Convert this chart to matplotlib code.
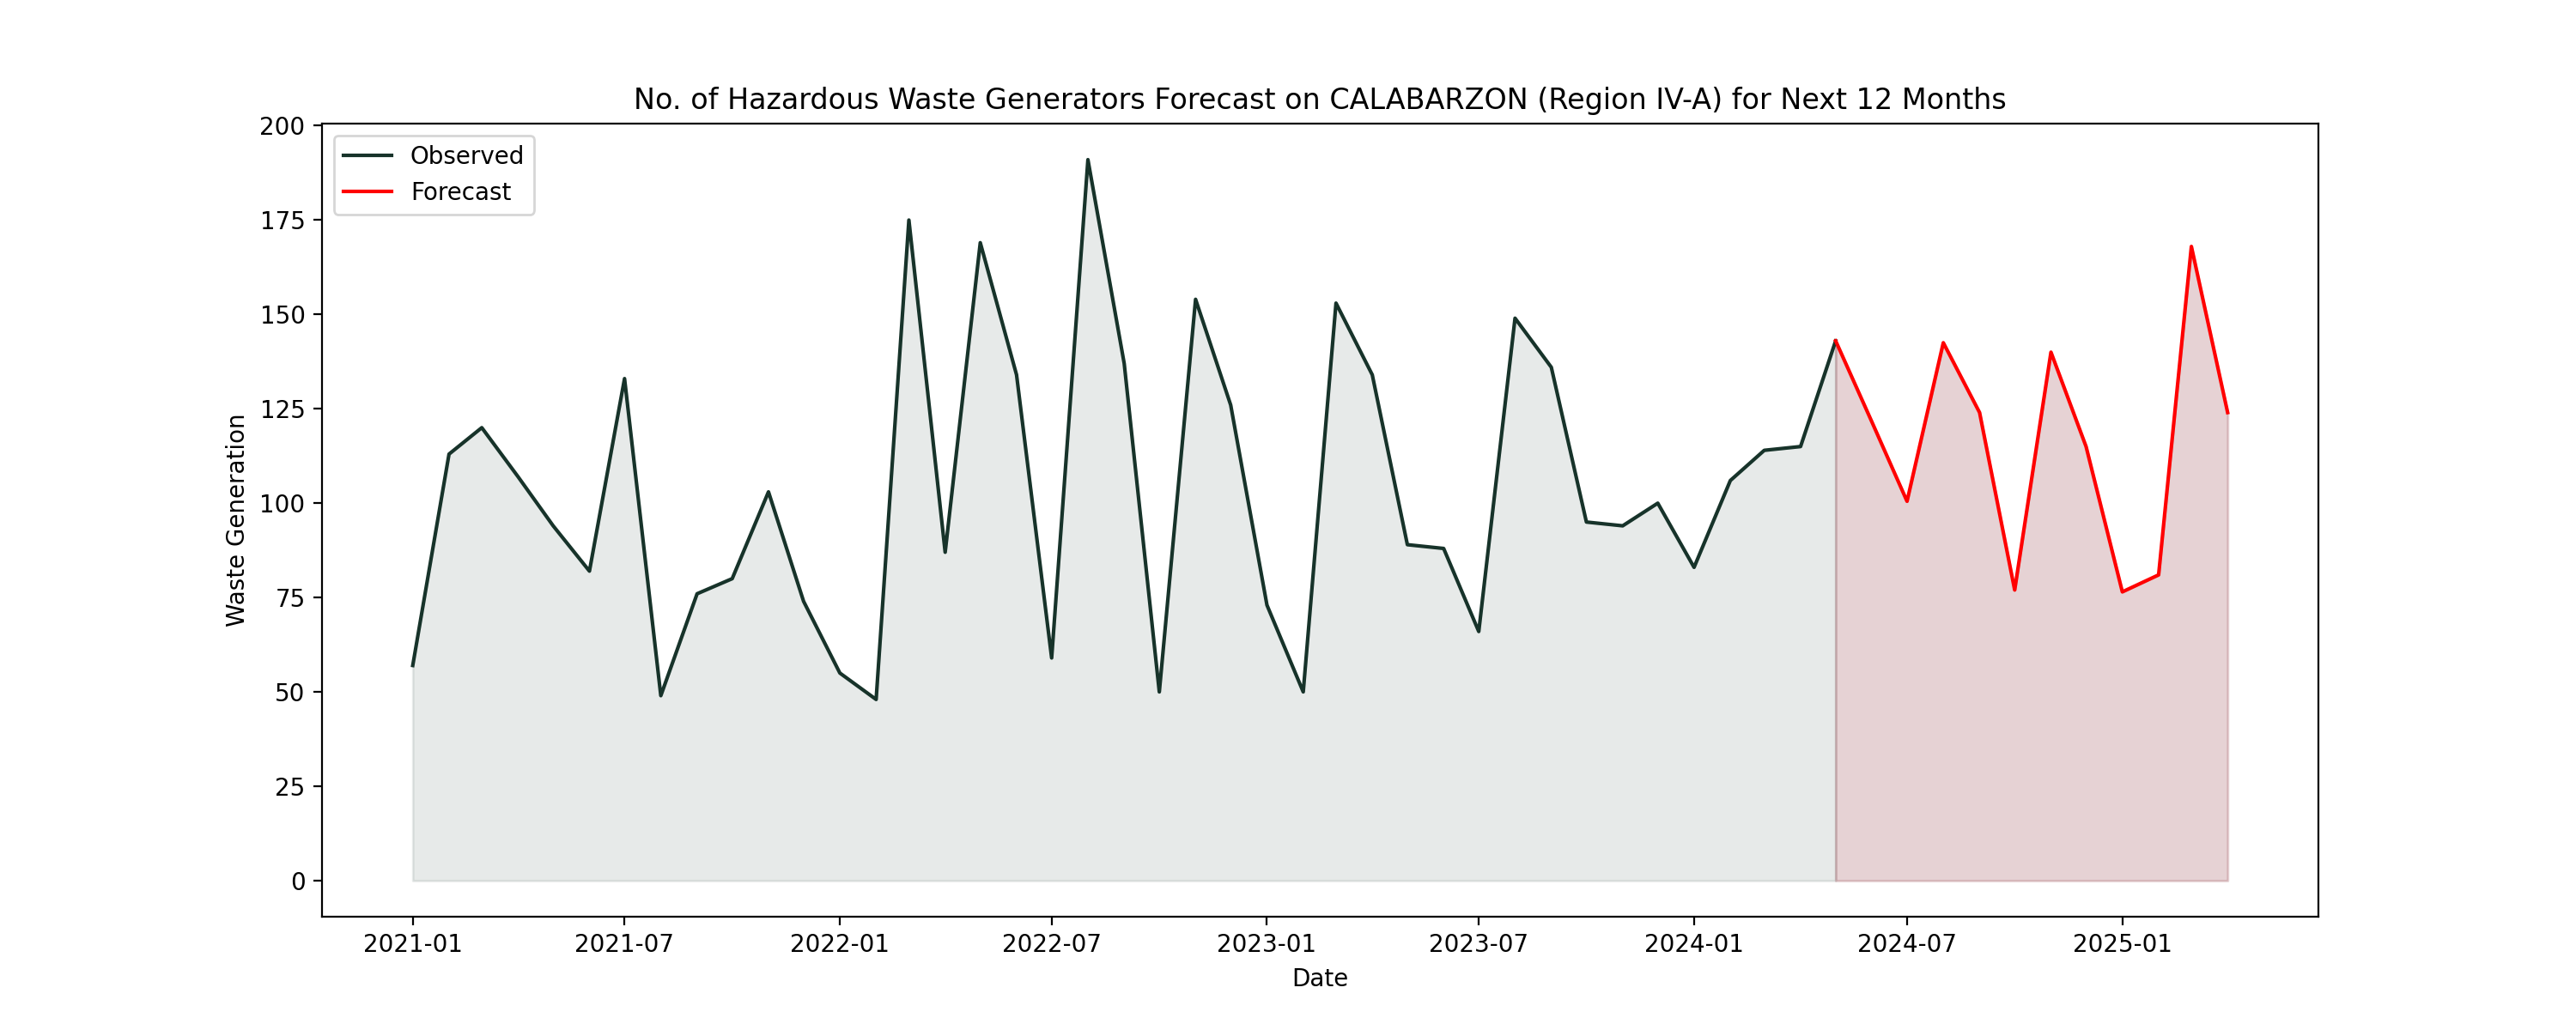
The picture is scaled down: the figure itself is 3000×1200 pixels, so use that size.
import pandas as pd
import numpy as np
import matplotlib
matplotlib.use("Agg")
import matplotlib.pyplot as plt

# ---------------------------------------------------------------------------
# Data
# ---------------------------------------------------------------------------
obs_dates = pd.date_range("2021-01-01", "2024-05-01", freq="MS")
obs_values = [
    57, 113, 120, 107, 94, 82, 133, 49, 76, 80, 103, 74,      # 2021
    55, 48, 175, 87, 169, 134, 59, 191, 137, 50, 154, 126,    # 2022
    73, 50, 153, 134, 89, 88, 66, 149, 136, 95, 94, 100,      # 2023
    83, 106, 114, 115, 143,                                   # 2024-01..05
]

fc_dates = pd.date_range("2024-05-01", "2025-04-01", freq="MS")
fc_values = [143, 121.5, 100.5, 142.5, 124, 77, 140, 115, 76.5, 81, 168, 124]

obs_color = "#17332a"
fc_color = "red"
fc_fill = "#821e28"

# ---------------------------------------------------------------------------
# Chart
# ---------------------------------------------------------------------------
fig, ax = plt.subplots(figsize=(15, 6), dpi=200)

ax.plot(obs_dates, obs_values, color=obs_color, label="Observed")
ax.fill_between(obs_dates, 0, obs_values, color=obs_color, alpha=0.1)

ax.plot(fc_dates, fc_values, color=fc_color, label="Forecast")
ax.fill_between(fc_dates, 0, fc_values, color=fc_fill, alpha=0.2)

ax.set_title("No. of Hazardous Waste Generators Forecast on CALABARZON (Region IV-A) for Next 12 Months")
ax.set_xlabel("Date")
ax.set_ylabel("Waste Generation")
ax.legend(loc="upper left")

plt.savefig("out.png", dpi=200)
plt.close()
